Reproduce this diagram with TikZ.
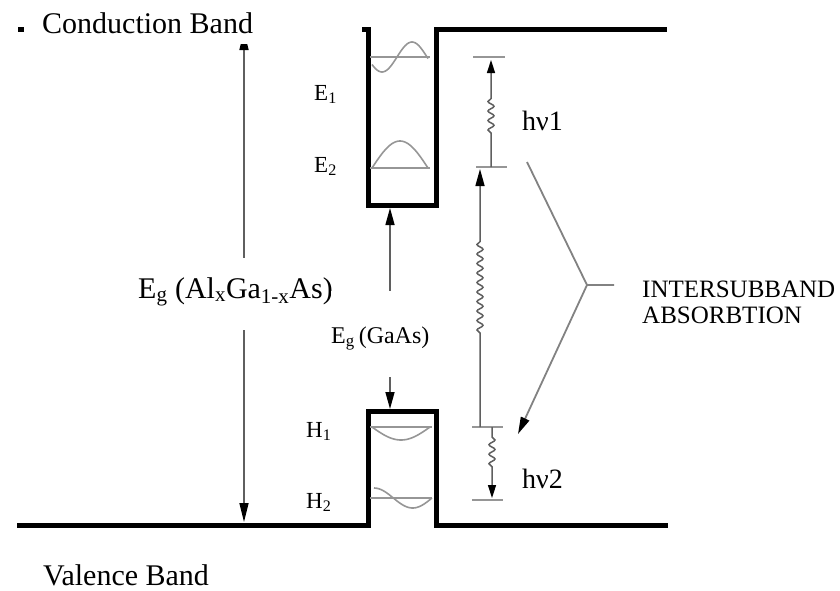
\documentclass[tikz,border=0pt]{standalone}
\usepackage{fontspec}
\setmainfont{Liberation Serif}
\usetikzlibrary{arrows.meta,decorations.pathmorphing}
\definecolor{levgray}{RGB}{150,150,150}
\definecolor{arrgray}{RGB}{95,95,95}
\definecolor{bracegray}{RGB}{130,130,130}
\begin{document}
\begin{tikzpicture}[x=1pt,y=-1pt,line join=miter,
  band/.style={line width=5pt,black},
  levelline/.style={line width=1.8pt,levgray},
  wavefn/.style={line width=1.6pt,levgray},
  tickline/.style={line width=1.6pt,levgray},
  arrline/.style={line width=1.5pt,arrgray},
  bigtip/.style={>={Triangle[length=19pt,width=9pt,color=black]}},
  midtip/.style={>={Triangle[length=17pt,width=9pt,color=black]}},
  smalltip/.style={>={Triangle[length=13pt,width=8pt,color=black]}},
  squiggle/.style={decorate,decoration={snake,amplitude=3pt,segment length=9.5pt,#1}},
  bracel/.style={line width=1.8pt,bracegray},
  whitebox/.style={fill=white,inner sep=0pt},
  lbl/.style={inner sep=0pt,anchor=base west}]
\useasboundingbox (0,0) rectangle (840,590);

% ---- band edges
\draw[band] (18,29) -- (368,29) -- (368,205) -- (436,205) -- (436,29) -- (667,29);
\draw[band] (17,525) -- (368,525) -- (368,411) -- (436,411) -- (436,525) -- (668,525);

% ---- subband levels
\draw[levelline] (370,57) -- (430,57);
\draw[wavefn] plot[domain=372:428,samples=50,smooth] (\x,{57+15*sin(30+6*(\x-372))});
\draw[levelline] (370,168) -- (430,168);
\draw[wavefn] plot[domain=0:1,samples=40,smooth] ({372+56*\x},{168-27*sin(180*\x)});
\draw[levelline] (370,427) -- (432,427);
\draw[wavefn] plot[domain=0:1,samples=40,smooth] ({372+58*\x},{427+13*sin(180*\x)});
\draw[levelline] (370,498) -- (432,498);
\draw[wavefn] plot[domain=0:1,samples=40,smooth] ({374+58*\x},{498-10*cos(270*\x)});

% ---- gap arrows
\coordinate (egtop) at (244,31);
\coordinate (egbot) at (244,522);
\draw[arrline,bigtip,<->] (egtop) -- (egbot);
\coordinate (gwtop) at (390,208);
\coordinate (gwbot) at (390,409);
\draw[arrline,midtip,<->] (gwtop) -- (gwbot);

% ---- white label boxes
\node[whitebox,minimum width=338pt,minimum height=40pt,anchor=north west] (cbbox) at (24,4) {};
\node[lbl,font=\fontsize{30}{36}\selectfont] (cb) at (42,33) {Conduction Band};
\node[whitebox,minimum width=195pt,minimum height=72pt] (egbox) at (236,294) {};
\node[lbl,font=\fontsize{30}{36}\selectfont] (egal) at (138,298) {E\textsubscript{g} (Al\textsubscript{x}Ga\textsubscript{1-x}As)};
\node[whitebox,minimum width=105pt,minimum height=86pt] (gabox) at (383,334) {};
\node[lbl,font=\fontsize{24}{28}\selectfont] (egga) at (331,343) {E\textsubscript{g}\,(GaAs)};

\node[lbl,font=\fontsize{30}{36}\selectfont] (vb) at (43,585) {Valence Band};

% ---- level labels
\node[lbl,font=\fontsize{23}{27}\selectfont] (le1) at (314,100) {E\textsubscript{1}};
\node[lbl,font=\fontsize{23}{27}\selectfont] (le2) at (314,172) {E\textsubscript{2}};
\node[lbl,font=\fontsize{23}{27}\selectfont] (lh1) at (306,437) {H\textsubscript{1}};
\node[lbl,font=\fontsize{23}{27}\selectfont] (lh2) at (306,508) {H\textsubscript{2}};

% ---- transition ticks
\coordinate (t1a) at (473,57);   \coordinate (t1b) at (505,57);
\coordinate (t2a) at (476,167);  \coordinate (t2b) at (507,167);
\coordinate (t3a) at (472,427);  \coordinate (t3b) at (503,427);
\coordinate (t4a) at (472,500);  \coordinate (t4b) at (503,500);
\draw[tickline] (t1a) -- (t1b);
\draw[tickline] (t2a) -- (t2b);
\draw[tickline] (t3a) -- (t3b);
\draw[tickline] (t4a) -- (t4b);

% ---- transitions
\coordinate (hv1s) at (491,167); \coordinate (hv1e) at (491,60);
\draw[arrline,smalltip,->,squiggle={pre length=34pt,post length=37pt}] (hv1s) -- (hv1e);
\coordinate (bigs) at (480,427); \coordinate (bige) at (480,169);
\draw[arrline,midtip,->,squiggle={pre length=94pt,post length=68pt}] (bigs) -- (bige);
\coordinate (hv2s) at (492,427); \coordinate (hv2e) at (492,498);
\draw[arrline,smalltip,->,squiggle={pre length=10pt,post length=31pt}] (hv2s) -- (hv2e);

\node[lbl,font=\fontsize{28}{32}\selectfont] (hv1) at (522,130) {hν1};
\node[lbl,font=\fontsize{28}{32}\selectfont] (hv2) at (522,488) {hν2};

% ---- intersubband pointer
\coordinate (bu) at (527,162);
\coordinate (bv) at (587,285);
\coordinate (bh) at (614,285);
\coordinate (bl) at (518,434);
\draw[bracel] (bu) -- (bv) -- (bh);
\draw[bracel,midtip,->] (bv) -- (bl);
\node[lbl,font=\fontsize{25}{29}\selectfont] (isb1) at (642,297) {INTERSUBBAND};
\node[lbl,font=\fontsize{25}{29}\selectfont] (isb2) at (642,323) {ABSORBTION};
\end{tikzpicture}
\end{document}
